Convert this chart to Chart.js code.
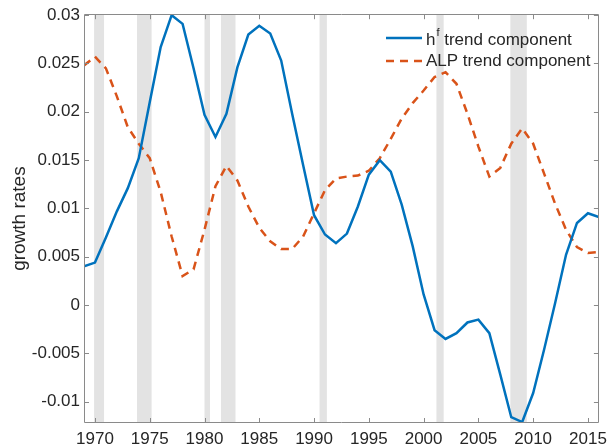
<!DOCTYPE html>
<html>
<head>
<meta charset="utf-8">
<script src="https://cdn.jsdelivr.net/npm/chart.js@4/dist/chart.umd.min.js"></script>
<style>
  html, body { margin: 0; padding: 0; background: #ffffff; }
  #wrap { width: 613px; height: 447px; position: relative; }
</style>
</head>
<body>
<div id="wrap"><canvas id="c"></canvas></div>
<script>
// ---------- data ----------
const years = [1969,1970,1971,1972,1973,1974,1975,1976,1977,1978,1979,1980,1981,1982,1983,1984,1985,1986,1987,1988,1989,1990,1991,1992,1993,1994,1995,1996,1997,1998,1999,2000,2001,2002,2003,2004,2005,2006,2007,2008,2009,2010,2011,2012,2013,2014,2015,2016];
const hfTrend = [0.0040,0.0044,0.0070,0.0097,0.0121,0.0152,0.0210,0.0267,0.0300,0.0291,0.0245,0.0197,0.0174,0.0198,0.0246,0.0280,0.0289,0.0281,0.0253,0.0198,0.0145,0.0093,0.0073,0.0064,0.0074,0.0102,0.0135,0.0150,0.0138,0.0104,0.0061,0.0011,-0.0026,-0.0035,-0.0029,-0.0018,-0.0015,-0.0029,-0.0072,-0.0116,-0.0121,-0.0091,-0.0046,0.0002,0.0052,0.0085,0.0095,0.0091];
const alpTrend = [0.0248,0.0257,0.0245,0.0216,0.0184,0.0167,0.0152,0.0117,0.0071,0.0030,0.0037,0.0078,0.0123,0.0144,0.0129,0.0102,0.0080,0.0066,0.0058,0.0058,0.0071,0.0095,0.0119,0.0131,0.0133,0.0134,0.0139,0.0152,0.0172,0.0193,0.0209,0.0222,0.0236,0.0241,0.0229,0.0198,0.0164,0.0133,0.0142,0.0167,0.0183,0.0167,0.0136,0.0105,0.0078,0.0060,0.0054,0.0055];
const recessionStart = [1969.92,1973.84,1980.0,1981.5,1990.5,2001.17,2007.92];
const recessionEnd   = [1970.83,1975.17,1980.5,1982.83,1991.17,2001.83,2009.42];
const xTicks = [1970,1975,1980,1985,1990,1995,2000,2005,2010,2015];
const yTicks = [-0.01,-0.005,0,0.005,0.01,0.015,0.02,0.025,0.03];
const yTickLabels = ['-0.01','-0.005','0','0.005','0.01','0.015','0.02','0.025','0.03'];
const seriesNames = ['h\u1da0 trend component','ALP trend component'];
const yTitle = 'growth rates';

const FONT = '"Liberation Sans", Arial, Helvetica, sans-serif';
const TEXT = '#262626';
const BLUE = '#0072BD';
const ORANGE = '#D95319';

// ---------- plugins ----------
const recessionPlugin = {
  id: 'recessions',
  beforeDatasetsDraw(chart) {
    const {ctx, chartArea: a, scales: {x}} = chart;
    ctx.save();
    ctx.fillStyle = '#e3e3e3';
    for (let i = 0; i < recessionStart.length; i++) {
      const x0 = x.getPixelForValue(recessionStart[i]);
      const x1 = x.getPixelForValue(recessionEnd[i]);
      ctx.fillRect(x0, a.top, x1 - x0, a.bottom - a.top);
    }
    ctx.restore();
  }
};

const boxPlugin = {
  id: 'box',
  afterDatasetsDraw(chart) {
    const {ctx, chartArea: a, scales: {x, y}} = chart;
    ctx.save();
    ctx.strokeStyle = '#8a8a8a';
    ctx.lineWidth = 1;
    ctx.beginPath();
    ctx.rect(Math.round(a.left) + 0.5, Math.round(a.top) + 0.5, Math.round(a.right - a.left) - 1, Math.round(a.bottom - a.top) - 1);
    const L = 5;
    x.ticks.forEach(t => {
      const px = Math.round(x.getPixelForValue(t.value)) + 0.5;
      ctx.moveTo(px, a.bottom); ctx.lineTo(px, a.bottom - L);
      ctx.moveTo(px, a.top); ctx.lineTo(px, a.top + L);
    });
    y.ticks.forEach(t => {
      const py = Math.round(y.getPixelForValue(t.value)) + 0.5;
      ctx.moveTo(a.left, py); ctx.lineTo(a.left + L, py);
      ctx.moveTo(a.right, py); ctx.lineTo(a.right - L, py);
    });
    ctx.stroke();
    ctx.restore();
  }
};

const legendPlugin = {
  id: 'insideLegend',
  afterDraw(chart) {
    const {ctx} = chart;
    const ds = chart.data.datasets;
    const x0 = 386, x1 = 422, tx = 426;
    const rows = [38, 61];
    ctx.save();
    ds.forEach((d, i) => {
      const yy = rows[i];
      ctx.strokeStyle = d.borderColor;
      ctx.lineWidth = d.borderWidth;
      ctx.setLineDash(d.borderDash || []);
      ctx.beginPath();
      ctx.moveTo(x0, yy); ctx.lineTo(x1, yy);
      ctx.stroke();
      ctx.setLineDash([]);
      ctx.fillStyle = TEXT;
      ctx.textBaseline = 'middle';
      ctx.textAlign = 'left';
      ctx.font = '17px ' + FONT;
      const label = d.label;
      if (label.charAt(1) === '\u1da0') {
        ctx.fillText('h', tx, yy + 2);
        const w = ctx.measureText('h').width;
        ctx.font = '11px ' + FONT;
        ctx.fillText('f', tx + w + 1, yy - 5);
        const wf = ctx.measureText('f').width;
        ctx.font = '17px ' + FONT;
        ctx.fillText(label.slice(2), tx + w + 1 + wf, yy + 2);
      } else {
        ctx.fillText(label, tx, yy);
      }
    });
    ctx.restore();
  }
};

// ---------- chart ----------
new Chart(document.getElementById('c'), {
  type: 'line',
  data: {
    datasets: [
      {
        label: seriesNames[0],
        data: years.map((yr, i) => ({x: yr, y: hfTrend[i]})),
        borderColor: BLUE,
        borderWidth: 2.5,
        pointRadius: 0,
        tension: 0,
        fill: false
      },
      {
        label: seriesNames[1],
        data: years.map((yr, i) => ({x: yr, y: alpTrend[i]})),
        borderColor: ORANGE,
        borderWidth: 2.5,
        borderDash: [8, 6],
        pointRadius: 0,
        tension: 0,
        fill: false
      }
    ]
  },
  options: {
    responsive: true,
    maintainAspectRatio: false,
    animation: false,
    layout: { padding: { top: 14, right: 7, left: 0, bottom: 0 } },
    plugins: {
      legend: { display: false },
      tooltip: { enabled: false }
    },
    scales: {
      x: {
        type: 'linear',
        min: years[0],
        max: years[years.length - 1],
        grid: { display: false, drawTicks: false, tickLength: 0 },
        border: { display: false },
        afterBuildTicks(s) { s.ticks = xTicks.map(v => ({value: v})); },
        afterFit(s) { s.height = 24; },
        ticks: {
          color: TEXT,
          font: { family: FONT, size: 17 },
          padding: 6,
          maxRotation: 0,
          autoSkip: false,
          callback: (v) => String(v)
        }
      },
      y: {
        type: 'linear',
        min: -0.0122,
        max: 0.0301,
        grid: { display: false, drawTicks: false, tickLength: 0 },
        border: { display: false },
        afterBuildTicks(s) { s.ticks = yTicks.map(v => ({value: v})); },
        afterFit(s) { s.width = 84; },
        ticks: {
          color: TEXT,
          font: { family: FONT, size: 17 },
          padding: 4,
          autoSkip: false,
          callback: (v) => { const i = yTicks.findIndex(t => Math.abs(t - v) < 1e-9); return i >= 0 ? yTickLabels[i] : ''; }
        },
        title: {
          display: true,
          text: yTitle,
          color: TEXT,
          font: { family: FONT, size: 19 },
          padding: { top: 8, bottom: 0 }
        }
      }
    }
  },
  plugins: [recessionPlugin, boxPlugin, legendPlugin]
});
</script>
</body>
</html>
